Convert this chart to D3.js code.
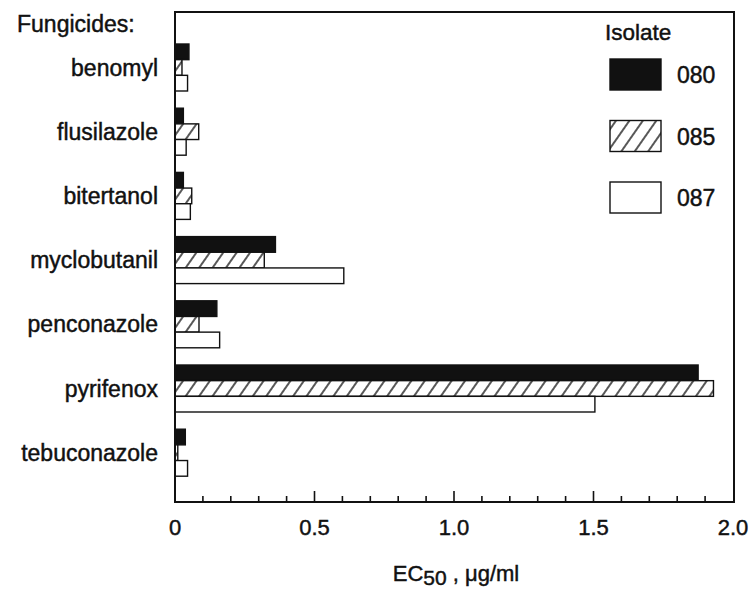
<!DOCTYPE html>
<html>
<head>
<meta charset="utf-8">
<script src="https://cdn.jsdelivr.net/npm/d3@7"></script>
<style>
  body { margin: 0; background: #fff; }
  text { font-family: "Liberation Sans", Arial, sans-serif; fill: #111; stroke: #111; stroke-width: 0.45; }
</style>
</head>
<body>
<div id="chart"></div>
<script>
// Data
const fungicides = ["benomyl", "flusilazole", "bitertanol", "myclobutanil", "penconazole", "pyrifenox", "tebuconazole"];
const isolates = ["080", "085", "087"];
const ec080 = [0.05, 0.03, 0.03, 0.36, 0.15, 1.875, 0.037];
const ec085 = [0.025, 0.085, 0.06, 0.32, 0.086, 1.93, 0.01];
const ec087 = [0.045, 0.04, 0.055, 0.605, 0.16, 1.505, 0.045];
const xTicks = [0, 0.5, 1.0, 1.5, 2.0];
const xTickLabels = ["0", "0.5", "1.0", "1.5", "2.0"];

const width = 749, height = 591;
const plotL = 175, plotR = 734, plotT = 12, plotB = 502;

const svg = d3.select("#chart").append("svg")
  .attr("width", width)
  .attr("height", height);

// hatch pattern for isolate 085
svg.append("defs").append("pattern")
  .attr("id", "hatch")
  .attr("patternUnits", "userSpaceOnUse")
  .attr("width", 11)
  .attr("height", 11)
  .attr("patternTransform", "rotate(35)")
  .call(p => {
    p.append("rect").attr("width", 11).attr("height", 11).attr("fill", "#fff");
    p.append("line").attr("x1", 5).attr("y1", -2).attr("x2", 5).attr("y2", 13)
      .attr("stroke", "#111").attr("stroke-width", 1.4);
  });

const fills = ["#111", "url(#hatch)", "#fff"];

const x = d3.scaleLinear().domain([0, 2]).range([plotL, plotR - 1]);
const y = d3.scaleBand().domain(fungicides).range([35.4, 484.8]).paddingInner(0.268).paddingOuter(0.134);
const ySub = d3.scaleBand().domain(isolates).range([0, y.bandwidth()]);

const rows = fungicides.map((f, i) => ({
  name: f,
  values: [ec080[i], ec085[i], ec087[i]]
}));

// bars
const g = svg.append("g").selectAll("g")
  .data(rows)
  .join("g")
  .attr("transform", d => `translate(0,${y(d.name)})`);

g.selectAll("rect")
  .data(d => d.values.map((v, k) => ({ v, k })))
  .join("rect")
  .attr("x", x(0))
  .attr("y", d => ySub(isolates[d.k]))
  .attr("width", d => x(d.v) - x(0))
  .attr("height", ySub.bandwidth())
  .attr("fill", d => fills[d.k])
  .attr("stroke", "#111")
  .attr("stroke-width", 1.4);

// frame
svg.append("rect")
  .attr("x", plotL).attr("y", plotT)
  .attr("width", plotR - plotL).attr("height", plotB - plotT)
  .attr("fill", "none")
  .attr("stroke", "#111")
  .attr("stroke-width", 2);

// inward ticks
const minor = d3.range(1, 20).map(i => i / 10);
svg.append("g").selectAll("line")
  .data(minor)
  .join("line")
  .attr("x1", d => x(d)).attr("x2", d => x(d))
  .attr("y1", plotB)
  .attr("y2", d => Math.abs(d * 2 - Math.round(d * 2)) < 1e-6 ? plotB - 11 : plotB - 6)
  .attr("stroke", "#111")
  .attr("stroke-width", 1.6);

// tick labels
svg.append("g").selectAll("text")
  .data(xTicks)
  .join("text")
  .attr("x", d => x(d))
  .attr("y", 535)
  .attr("text-anchor", "middle")
  .attr("font-size", 22)
  .text((d, i) => xTickLabels[i]);

// category labels
svg.append("g").selectAll("text")
  .data(fungicides)
  .join("text")
  .attr("x", 158)
  .attr("y", d => y(d) + y.bandwidth() / 2 + 8)
  .attr("text-anchor", "end")
  .attr("font-size", 23)
  .text(d => d);

svg.append("text")
  .attr("x", 17).attr("y", 32)
  .attr("font-size", 23)
  .text("Fungicides:");

// x axis title
const title = svg.append("text")
  .attr("x", 456).attr("y", 581)
  .attr("text-anchor", "middle")
  .attr("font-size", 22);
title.append("tspan").text("EC");
title.append("tspan").attr("dy", 4).attr("font-size", 21).text("50");
title.append("tspan").attr("dy", -4).text(" , \u03bcg/ml");

// legend
svg.append("text")
  .attr("x", 605).attr("y", 40)
  .attr("font-size", 22.5)
  .text("Isolate");

const leg = svg.append("g").selectAll("g")
  .data(isolates)
  .join("g")
  .attr("transform", (d, i) => `translate(610,${59 + i * 61.5})`);

leg.append("rect")
  .attr("width", 51).attr("height", 31)
  .attr("fill", (d, i) => fills[i])
  .attr("stroke", "#111")
  .attr("stroke-width", 1.4);

leg.append("text")
  .attr("x", 67).attr("y", 24)
  .attr("font-size", 23)
  .text(d => d);
</script>
</body>
</html>
